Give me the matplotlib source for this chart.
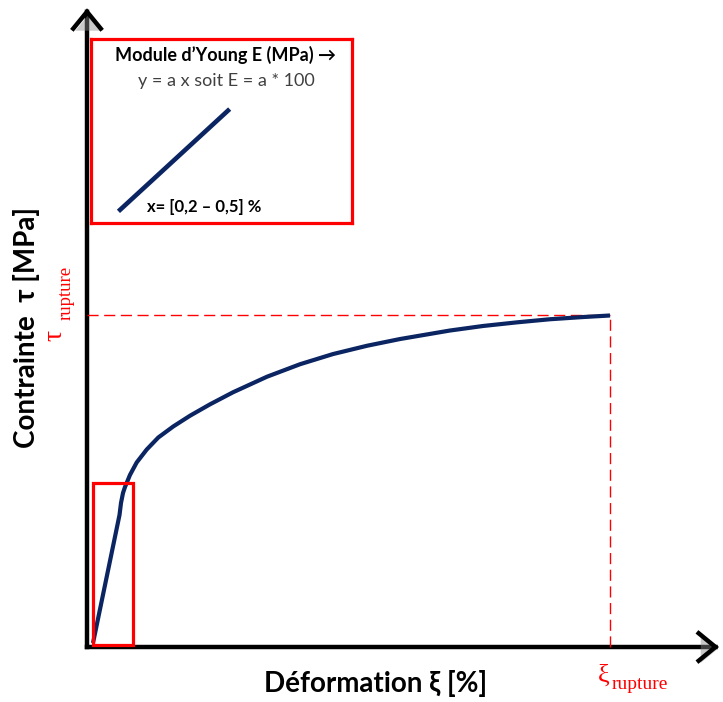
import matplotlib
matplotlib.use("Agg")
import matplotlib.pyplot as plt
import matplotlib.patheffects as pe
from matplotlib.patches import Rectangle, FancyArrowPatch

# Stress-strain curve (strain in %, stress in MPa)
strain = [0.069, 0.373, 0.390, 0.413, 0.436, 0.493, 0.570, 0.685, 0.818, 0.990,
          1.182, 1.411, 1.675, 2.065, 2.444, 2.822, 3.212, 3.591, 4.164, 4.543,
          4.933, 5.311, 5.690, 6.0]
stress = [0.36, 11.95, 13.03, 13.94, 14.48, 15.57, 16.70, 17.87, 18.96, 19.96,
          20.93, 21.96, 23.05, 24.46, 25.59, 26.51, 27.26, 27.87, 28.64, 29.05,
          29.38, 29.66, 29.86, 30.0]

strain_rupture = 6.0
stress_rupture = 30.0

# Elastic zone highlighted on the curve
elastic_strain = [0.069, 0.528]
elastic_stress = [0.18, 14.84]

# Sketch of the linear fit shown in the inset
inset_x = [0.0, 1.0]
inset_y = [0.0, 0.9]

navy = "#0b2562"
red = "#ff0000"
serif = ["Liberation Serif", "DejaVu Serif"]

plt.rcParams["font.family"] = ["Lato", "DejaVu Sans"]

fig = plt.figure(figsize=(7.23, 7.02), dpi=100)
ax = fig.add_axes([0, 0, 1, 1])
ax.set_xlim(-0.998, 7.296)
ax.set_ylim(-4.977, 58.55)
ax.axis("off")

# Axes with arrow heads and a soft drop shadow
shadow = [pe.SimplePatchShadow(offset=(1.5, -1.5), shadow_rgbFace="#888888", alpha=0.45),
          pe.Normal()]
for end in [(7.25, 0), (0, 57.8)]:
    arr = FancyArrowPatch((0, 0), end, arrowstyle="->,head_length=0.55,head_width=0.45",
                          mutation_scale=22, lw=3.2, color="black",
                          shrinkA=0, shrinkB=0, capstyle="projecting", joinstyle="miter",
                          path_effects=shadow)
    ax.add_patch(arr)

# Rupture guides
ax.plot([0, strain_rupture], [stress_rupture, stress_rupture], color=red, lw=1.0,
        dashes=(8, 4))
ax.plot([strain_rupture, strain_rupture], [0, stress_rupture], color=red, lw=1.0,
        dashes=(8, 4))

# Curve
ax.plot(strain, stress, color=navy, lw=3.0, solid_capstyle="butt",
        solid_joinstyle="round", zorder=3)

# Elastic zone box
ax.add_patch(Rectangle((elastic_strain[0], elastic_stress[0]),
                       elastic_strain[1] - elastic_strain[0],
                       elastic_stress[1] - elastic_stress[0],
                       fill=False, edgecolor=red, lw=2.3, zorder=4))

# Axis titles
ax.text(3.315, -3.3, "Déformation ξ [%]", fontsize=20, fontweight="bold",
        ha="center", va="center")
ax.text(-0.694, 28.9, "Contrainte  τ [MPa]", fontsize=20, fontweight="bold",
        ha="center", va="center", rotation=90)

# Rupture labels
ax.text(5.931, -2.6, "ξ", fontsize=19, color=red, family=serif,
        ha="center", va="center")
ax.text(6.02, -3.4, "rupture", fontsize=14, color=red, family=serif,
        ha="left", va="center")
ax.text(-0.367, 28.24, "τ", fontsize=20, color=red, family=serif,
        ha="center", va="center", rotation=90)
ax.text(-0.235, 29.6, "rupture", fontsize=13.5, color=red, family=serif,
        ha="center", va="bottom", rotation=90)

# Inset describing Young's modulus
iax = fig.add_axes([91 / 723, (702 - 223) / 702, 261 / 723, 184 / 702])
iax.set_xlim(-0.27, 2.15)
iax.set_ylim(-0.12, 1.55)
iax.set_xticks([])
iax.set_yticks([])
for sp in iax.spines.values():
    sp.set_edgecolor(red)
    sp.set_linewidth(2.3)
iax.plot(inset_x, inset_y, color=navy, lw=3.3)
iax.text(0.517, 0.913, "Module d\u2019Young E (MPa) \u2192", transform=iax.transAxes,
         fontsize=13, fontweight="bold", ha="center", va="center")
iax.text(0.52, 0.772, "y = a x soit E = a * 100", transform=iax.transAxes,
         fontsize=13, color="#404040", ha="center", va="center")
iax.text(0.435, 0.087, "x= [0,2 \u2013 0,5] %", transform=iax.transAxes,
         fontsize=12, fontweight="bold", ha="center", va="center")

fig.savefig("out.png", dpi=100)
